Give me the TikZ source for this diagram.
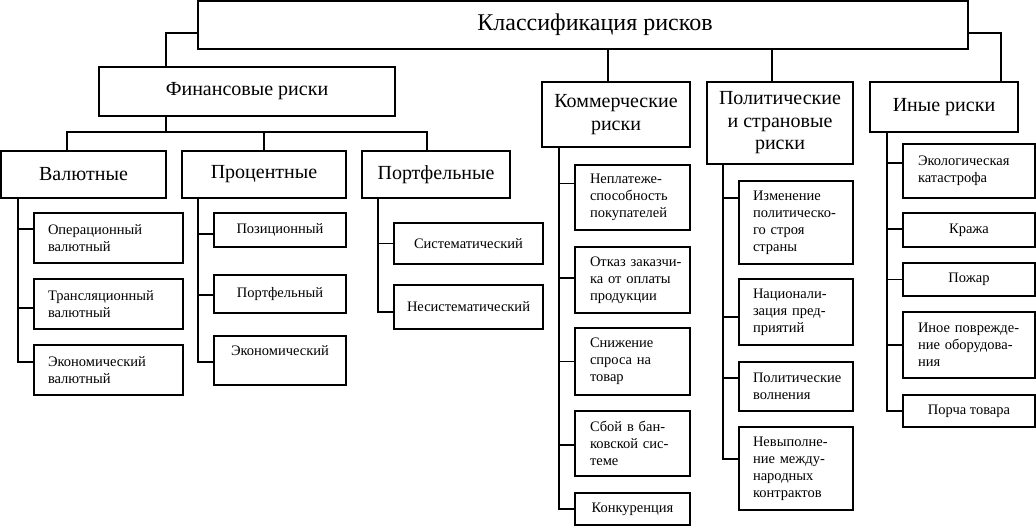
\documentclass[tikz,border=0pt]{standalone}
\usepackage{fontspec}
\setmainfont{Liberation Serif}
\newcommand\fT{\fontsize{24}{28}\selectfont}
\newcommand\fH{\fontsize{20}{22.5}\selectfont}
\newcommand\fS{\fontsize{14.5}{17}\selectfont}
\newcommand\ml[1]{\mbox{#1}}
\begin{document}
\begin{tikzpicture}[x=1pt,y=-1pt,
  bx/.style n args={2}{draw, line width=1.3pt, inner sep=0pt, minimum width=#1pt, minimum height=#2pt},
  hd/.style={font=\fH, align=center},
  sm/.style={font=\fS, align=center},
  lt/.style={font=\fS, align=left, text width=#1pt},
  ln/.style={line width=1.3pt}]
\useasboundingbox (0,0) rectangle (1036,526);
\fill[white] (0,0) rectangle (1036,526);

% top
\node[bx={770}{48}, font=\fT] (root) at (583,25) {\hspace*{24pt}Классификация рисков};

% level 1
\node[bx={296}{49}, hd] (fin) at (247,91.5) {Финансовые риски};
\node[bx={148}{65}, hd] (kom) at (616,114.5) {Коммерческие\\риски};
\node[bx={146}{82}, hd] (pol) at (780,123) {Политические\\и страновые\\риски};
\node[bx={148}{50}, hd] (oth) at (944,107) {Иные риски};

% level 2
\node[bx={165}{47}, hd] (val) at (83.5,174.5) {Валютные};
\node[bx={164}{47}, hd] (pro) at (264,174.5) {Процентные};
\node[bx={148}{47}, hd] (por) at (436,174.5) {Портфельные};

% Валютные
\node[bx={149}{50}, lt=121] (op) at (108.5,238) {\ml{Операционный}\\\ml{валютный}};
\node[bx={149}{50}, lt=121] (tr) at (108.5,304) {\ml{Трансляционный}\\\ml{валютный}};
\node[bx={149}{50}, lt=121] (ev) at (108.5,370) {\ml{Экономический}\\\ml{валютный}};
% Процентные
\node[bx={132}{34}, sm] (poz) at (280,230) {Позиционный};
\node[bx={132}{38}, sm] (pf) at (280,294) {Портфельный};
\node[bx={132}{49}, sm, text depth=20pt] (ek) at (280,360.5) {Экономический};
% Портфельные
\node[bx={149}{41}, sm] (sys) at (468.5,243.5) {Систематический};
\node[bx={149}{44}, sm] (nes) at (468.5,307) {Несистематический};

% Коммерческие
\node[bx={115}{65}, lt=85] (c1) at (632.5,197.5) {\ml{Неплатеже-}\\\ml{способность}\\\ml{покупателей}};
\node[bx={115}{66}, lt=85] (c2) at (632.5,280) {\ml{Отказ заказчи-}\\\ml{ка от оплаты}\\\ml{продукции}};
\node[bx={115}{67}, lt=85] (c3) at (632.5,361.5) {\ml{Снижение}\\\ml{спроса на}\\\ml{товар}};
\node[bx={115}{65}, lt=85] (c4) at (632.5,443.5) {\ml{Сбой в бан-}\\\ml{ковской сис-}\\\ml{теме}};
\node[bx={115}{32}, sm] (c5) at (632.5,509) {Конкуренция};

% Политические
\node[bx={114}{83}, lt=86] (p1) at (796,222.5) {\ml{Изменение}\\\ml{политическо-}\\\ml{го строя}\\\ml{страны}};
\node[bx={114}{66}, lt=86] (p2) at (796,312) {\ml{Национали-}\\\ml{зация пред-}\\\ml{приятий}};
\node[bx={114}{49}, lt=86] (p3) at (796,386.5) {\ml{Политические}\\\ml{волнения}};
\node[bx={114}{83}, lt=86] (p4) at (796,468.5) {\ml{Невыполне-}\\\ml{ние между-}\\\ml{народных}\\\ml{контрактов}};

% Иные
\node[bx={132}{54}, lt=102] (o1) at (969,171) {\ml{Экологическая}\\\ml{катастрофа}};
\node[bx={132}{34}, sm] (o2) at (969,230) {Кража};
\node[bx={132}{33}, sm] (o3) at (969,279.5) {Пожар};
\node[bx={132}{66}, lt=102] (o4) at (969,345) {\ml{Иное поврежде-}\\\ml{ние оборудова-}\\\ml{ния}};
\node[bx={132}{32}, sm] (o5) at (969,411) {Порча товара};

% trunk x positions
\coordinate (k0) at (608,0);
\coordinate (l0) at (772,0);
\coordinate (bus) at (166,132);
\coordinate (busL) at (67,132);
\coordinate (busR) at (427,132);
\coordinate (tv) at (18,0);
\coordinate (tp) at (198,0);
\coordinate (tq) at (378,0);
\coordinate (tc) at (559,0);
\coordinate (tl) at (723,0);
\coordinate (to) at (887,0);

% top connectors
\draw[ln] ([yshift=-8pt]root.west) -| ([xshift=-81pt]fin.north);
\draw[ln] ([yshift=-8pt]root.east) -| ([xshift=57pt]oth.north);
\draw[ln] (root.south -| k0) -- (kom.north -| k0);
\draw[ln] (root.south -| l0) -- (pol.north -| l0);

% financial bus
\draw[ln] ([xshift=-81pt]fin.south) -- (bus);
\draw[ln] (val.north -| busL) -- (busL) -- (busR) -- (por.north -| busR);
\draw[ln] (pro.north) -- (pro.north |- bus);

% Валютные
\draw[ln] (val.south -| tv) |- ([yshift=8pt]ev.west);
\draw[ln] ([yshift=9pt]op.west) -- ++(-16,0);
\draw[ln] ([yshift=-4pt]tr.west) -- ++(-16,0);
% Процентные
\draw[ln] (pro.south -| tp) |- ([yshift=-1.5pt]ek.west);
\draw[ln] ([yshift=-4pt]poz.west) -- ++(-16,0);
\draw[ln] ([yshift=-1pt]pf.west) -- ++(-16,0);
% Портфельные
\draw[ln] (por.south -| tq) |- ([yshift=-5pt]nes.west);
\draw[ln] (sys.west) -- ++(-16,0);
% Коммерческие
\draw[ln] (kom.south -| tc) |- (c5.west);
\draw[ln] ([yshift=14pt]c1.west) -- ++(-16,0);
\draw[ln] ([yshift=2pt]c2.west) -- ++(-16,0);
\draw[ln] (c3.west) -- ++(-16,0);
\draw[ln] ([yshift=-1.5pt]c4.west) -- ++(-16,0);
% Политические
\draw[ln] (pol.south -| tl) |- ([yshift=9.5pt]p4.west);
\draw[ln] ([yshift=24.5pt]p1.west) -- ++(-16,0);
\draw[ln] ([yshift=-5pt]p2.west) -- ++(-16,0);
\draw[ln] ([yshift=8.5pt]p3.west) -- ++(-16,0);
% Иные
\draw[ln] (oth.south -| to) |- (o5.west);
\draw[ln] ([yshift=8pt]o1.west) -- ++(-16,0);
\draw[ln] ([yshift=1pt]o2.west) -- ++(-16,0);
\draw[ln] (o3.west) -- ++(-16,0);
\draw[ln] (o4.west) -- ++(-16,0);
\end{tikzpicture}
\end{document}
